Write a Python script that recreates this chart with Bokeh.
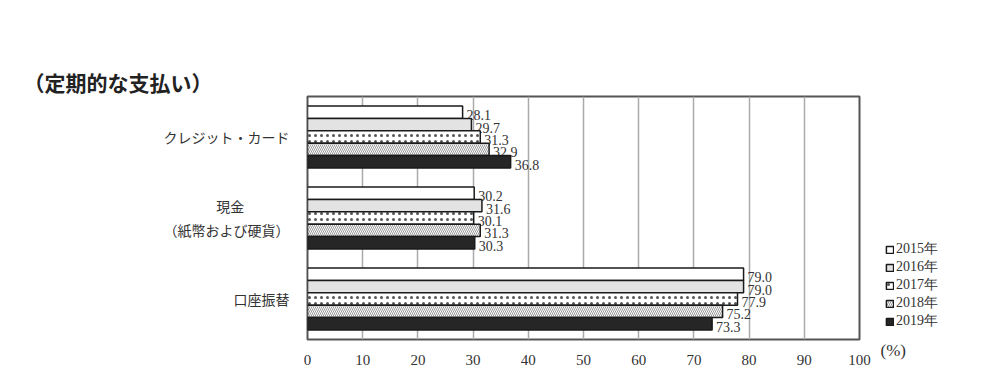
from bokeh.plotting import figure
from bokeh.models import (ColumnDataSource, FactorRange, Range1d, Legend, LegendItem,
                          Label, FixedTicker, Title)
from bokeh.transform import dodge
from bokeh.core.properties import value
from bokeh.embed import file_html
from bokeh.resources import INLINE

# ---- data ----
categories = ["クレジット・カード", "　　　現金　　　 \n（紙幣および硬貨）", "口座振替"]
years = ["2015年", "2016年", "2017年", "2018年", "2019年"]
v2015 = [28.1, 30.2, 79.0]
v2016 = [29.7, 31.6, 79.0]
v2017 = [31.3, 30.1, 77.9]
v2018 = [32.9, 31.3, 75.2]
v2019 = [36.8, 30.3, 73.3]
series = [v2015, v2016, v2017, v2018, v2019]
x_ticks = [0, 10, 20, 30, 40, 50, 60, 70, 80, 90, 100]
title_text = "（定期的な支払い）"
unit_text = "(%)"

# ---- styles ----
fills = ["white", "#e3e3e3", "white", "white", "#262626"]
hatches = [None, None, "dot", "left_diagonal_line", None]
hatch_colors = ["#333333", "#333333", "#555555", "#9a9a9a", "#333333"]
hatch_scales = [6, 6, 6, 4, 6]
hatch_weights = [1, 1, 0.4, 1.0, 1]
offsets = [0.306, 0.153, 0.0, -0.153, -0.306]
bar_h = 0.153

p = figure(frame_width=552, frame_height=243, output_backend="svg", toolbar_location=None,
           y_range=FactorRange(factors=categories[::-1], range_padding=0),
           x_range=Range1d(0, 100),
           min_border_left=307, min_border_right=129, min_border_top=96,
           min_border_bottom=45)
p.background_fill_color = "white"
p.border_fill_color = "white"
p.outline_line_color = "#555555"
p.outline_line_width = 2

p.ygrid.grid_line_color = None
p.xgrid.grid_line_color = "#aaaaaa"
p.xgrid.grid_line_width = 1.5
p.xgrid.ticker = FixedTicker(ticks=x_ticks)

p.xaxis.ticker = FixedTicker(ticks=x_ticks)
p.xaxis.axis_line_color = None
p.xaxis.major_tick_line_color = None
p.xaxis.minor_tick_line_color = None
p.xaxis.major_label_standoff = 9
p.xaxis.major_label_text_font = "Liberation Serif"
p.xaxis.major_label_text_font_size = "15px"
p.xaxis.major_label_text_color = "#333333"

p.yaxis.axis_line_color = None
p.yaxis.major_tick_line_color = None
p.yaxis.minor_tick_line_color = None
p.yaxis.major_label_standoff = 12
p.yaxis.major_label_text_font = "Noto Sans CJK JP"
p.yaxis.major_label_text_font_size = "14px"
p.yaxis.major_label_text_color = "#333333"

items = []
for i, yr in enumerate(years):
    src = ColumnDataSource(dict(cat=categories, val=series[i],
                                lab=["%.1f" % v for v in series[i]]))
    kw = {}
    if hatches[i]:
        kw = dict(hatch_pattern=hatches[i], hatch_color=hatch_colors[i],
                  hatch_scale=hatch_scales[i], hatch_weight=hatch_weights[i])
    r = p.hbar(y=dodge("cat", offsets[i], range=p.y_range), left=0, right="val",
               height=bar_h, source=src, fill_color=fills[i],
               line_color="#1a1a1a", line_width=1.5, **kw)
    p.text(x="val", y=dodge("cat", offsets[i], range=p.y_range), text="lab",
           source=src, x_offset=4, y_offset=3, text_baseline="middle",
           text_font=value("Liberation Serif"), text_font_size="14px",
           text_color="#333333")
    items.append(LegendItem(label=yr, renderers=[r]))

legend = Legend(items=items, location=(26, 9), orientation="vertical")
legend.glyph_width = 9
legend.glyph_height = 9
legend.label_height = 18
legend.spacing = 0
legend.padding = 0
legend.margin = 0
legend.label_standoff = 2
legend.label_text_font = "Liberation Serif"
legend.label_text_font_size = "14px"
legend.label_text_color = "#333333"
legend.border_line_color = None
legend.background_fill_alpha = 0
p.add_layout(legend, "right")

t = Title(text=title_text, align="left", offset=-284, standoff=0,
          text_font="Noto Sans CJK JP", text_font_style="bold",
          text_font_size="21px", text_color="#222222")
p.add_layout(t, "above")

p.add_layout(Label(x=573, y=36, x_units="screen", y_units="screen", text=unit_text,
                   text_font="Liberation Serif", text_font_size="17px",
                   text_color="#333333", text_baseline="middle"), "below")

open("out.html", "w").write(file_html(p, INLINE))
